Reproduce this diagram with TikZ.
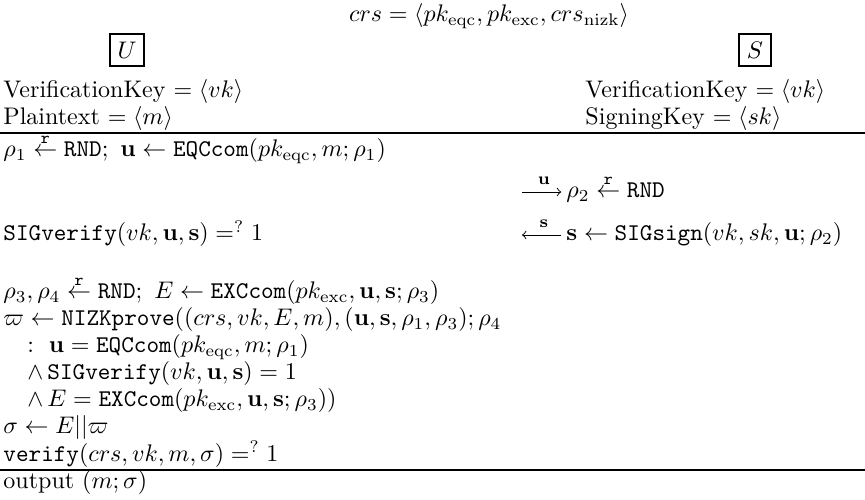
\documentclass[tikz,border=0pt]{standalone}
\usepackage{amsmath,amssymb}
\usepackage{tikz}
\usetikzlibrary{arrows}
\usetikzlibrary{positioning}
\tikzstyle{party}=[draw,line width=0.8pt,inner sep=3pt,minimum width=13pt,minimum height=13pt]
\tikzstyle{txt}=[anchor=base west,inner sep=0pt]
\tikzstyle{msg}=[->,>=to]
\tikzstyle{lbl}=[above=3pt,inner sep=0pt,font=\scriptsize]
\tikzstyle{hrule}=[line width=0.8pt]
\newcommand{\rnd}{\stackrel{\mathtt{r}}{\leftarrow}}

\begin{document}
\begin{tikzpicture}[x=0.4167pt,y=-0.4167pt]
	\useasboundingbox (0,0) rectangle (865,500);
	% header
	\node[anchor=base,inner sep=0pt] (crs) at (489,22) {$crs = \langle pk_{\mathrm{eqc}}, pk_{\mathrm{exc}}, crs_{\mathrm{nizk}}\rangle$};
	\node[party] (U) at (127,50) {$U$};
	\node[party] (S) at (755,50) {$S$};
	\node[txt] (vkU) at (3,98) {VerificationKey $= \langle vk\rangle$};
	\node[txt] (ptU) at (3,125) {Plaintext $= \langle m\rangle$};
	\node[txt] (vkS) at (585,98) {VerificationKey $= \langle vk\rangle$};
	\node[txt] (skS) at (585,125) {SigningKey $= \langle sk\rangle$};
	\draw[hrule] (0,133) -- (865,133);

	% commit and sign
	\node[txt] (rhoA) at (3,157) {$\rho_1 \rnd \mathtt{RND};\ \mathbf{u} \leftarrow \mathtt{EQCcom}(pk_{\mathrm{eqc}}, m; \rho_1)$};
	\coordinate (uA) at (522,192);
	\node[txt] (rhoB) at (566,198) {$\rho_2 \rnd \mathtt{RND}$};
	\draw[msg,shorten >=2pt] (uA) -- (uA -| rhoB.west) node[midway,lbl] {$\mathbf{u}$};

	\node[txt] (chk) at (3,241) {$\mathtt{SIGverify}(vk, \mathbf{u}, \mathbf{s}) =^{?} 1$};
	\coordinate (sA) at (522,235);
	\node[txt] (sgn) at (566,241) {$\mathbf{s} \leftarrow \mathtt{SIGsign}(vk, sk, \mathbf{u}; \rho_2)$};
	\draw[msg,shorten <=2pt] (sA -| sgn.west) -- (sA) node[midway,lbl] {$\mathbf{s}$};

	% encrypt and prove
	\node[txt] (rhoC) at (3,299) {$\rho_3, \rho_4 \rnd \mathtt{RND};\ E \leftarrow \mathtt{EXCcom}(pk_{\mathrm{exc}}, \mathbf{u}, \mathbf{s}; \rho_3)$};
	\node[txt] (prf) at (3,326) {$\varpi \leftarrow \mathtt{NIZKprove}((crs, vk, E, m), (\mathbf{u}, \mathbf{s}, \rho_1, \rho_3); \rho_4$};
	\node[txt] (stA) at (27,353) {$:\ \mathbf{u} = \mathtt{EQCcom}(pk_{\mathrm{eqc}}, m; \rho_1)$};
	\node[txt] (stB) at (27,380) {$\wedge\, \mathtt{SIGverify}(vk, \mathbf{u}, \mathbf{s}) = 1$};
	\node[txt] (stC) at (27,407) {$\wedge\, E = \mathtt{EXCcom}(pk_{\mathrm{exc}}, \mathbf{u}, \mathbf{s}; \rho_3))$};
	\node[txt] (sig) at (3,434) {$\sigma \leftarrow E || \varpi$};
	\node[txt] (ver) at (3,461) {$\mathtt{verify}(crs, vk, m, \sigma) =^{?} 1$};
	\draw[hrule] (0,470) -- (865,470);
	\node[txt] (out) at (3,488) {output $(m; \sigma)$};
\end{tikzpicture}
\end{document}
